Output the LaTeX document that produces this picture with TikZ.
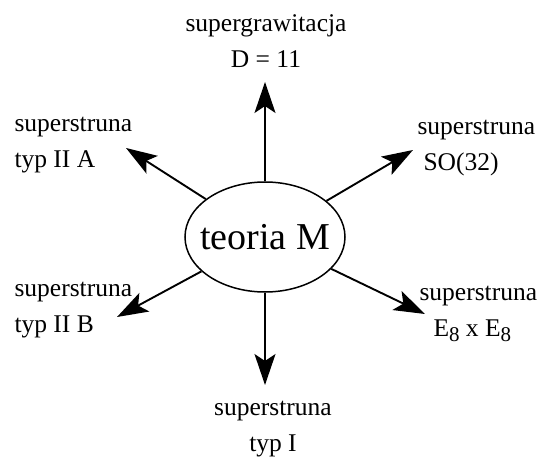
\documentclass[tikz,border=0pt]{standalone}
\usepackage{fontspec}
\setmainfont{Liberation Serif}
\usetikzlibrary{arrows.meta,shapes.geometric}

\begin{document}
\begin{tikzpicture}[x=1pt,y=-1pt,
  txt/.style={font=\fontsize{25.5}{36}\selectfont},
  pil/.style={line width=1.9pt,-{Stealth[length=31pt,width=21pt,inset=7pt]}}]
\useasboundingbox (0,0) rectangle (541,457);
\node[draw,ellipse,line width=1.5pt,minimum width=160pt,minimum height=110pt,inner sep=0pt,font=\fontsize{38}{38}\selectfont] (M) at (265,237) {\makebox[0pt]{teoria M}};
\node[txt,align=center] (sugra) at (266,41) {supergrawitacja\\D = 11};
\node[txt,align=left,anchor=west] (IIA) at (11,145) {superstruna\\typ II A};
\node[txt,align=left,anchor=west] (SO) at (414,148) {superstruna\\\hspace*{6pt}SO(32)};
\node[txt,align=left,anchor=west] (IIB) at (11,310) {superstruna\\typ II B};
\node[txt,align=left,anchor=west] (EE) at (416,314) {superstruna\\\hspace*{14pt}E\raisebox{-0.45ex}{\fontsize{21}{21}\selectfont 8} x E\raisebox{-0.45ex}{\fontsize{21}{21}\selectfont 8}};
\node[txt,align=center] (I) at (273,429) {superstruna\\typ I};
\coordinate (tN) at (265,82);
\coordinate (tS) at (265,385);
\coordinate (tNW) at (126,148);
\coordinate (tNE) at (413,150);
\coordinate (tSW) at (117,317);
\coordinate (tSE) at (425,314);
\draw[pil] (M) -- (tN);
\draw[pil] (M) -- (tS);
\draw[pil] (M) -- (tNW);
\draw[pil] (M) -- (tNE);
\draw[pil] (M) -- (tSW);
\draw[pil] (M) -- (tSE);
\end{tikzpicture}
\end{document}
